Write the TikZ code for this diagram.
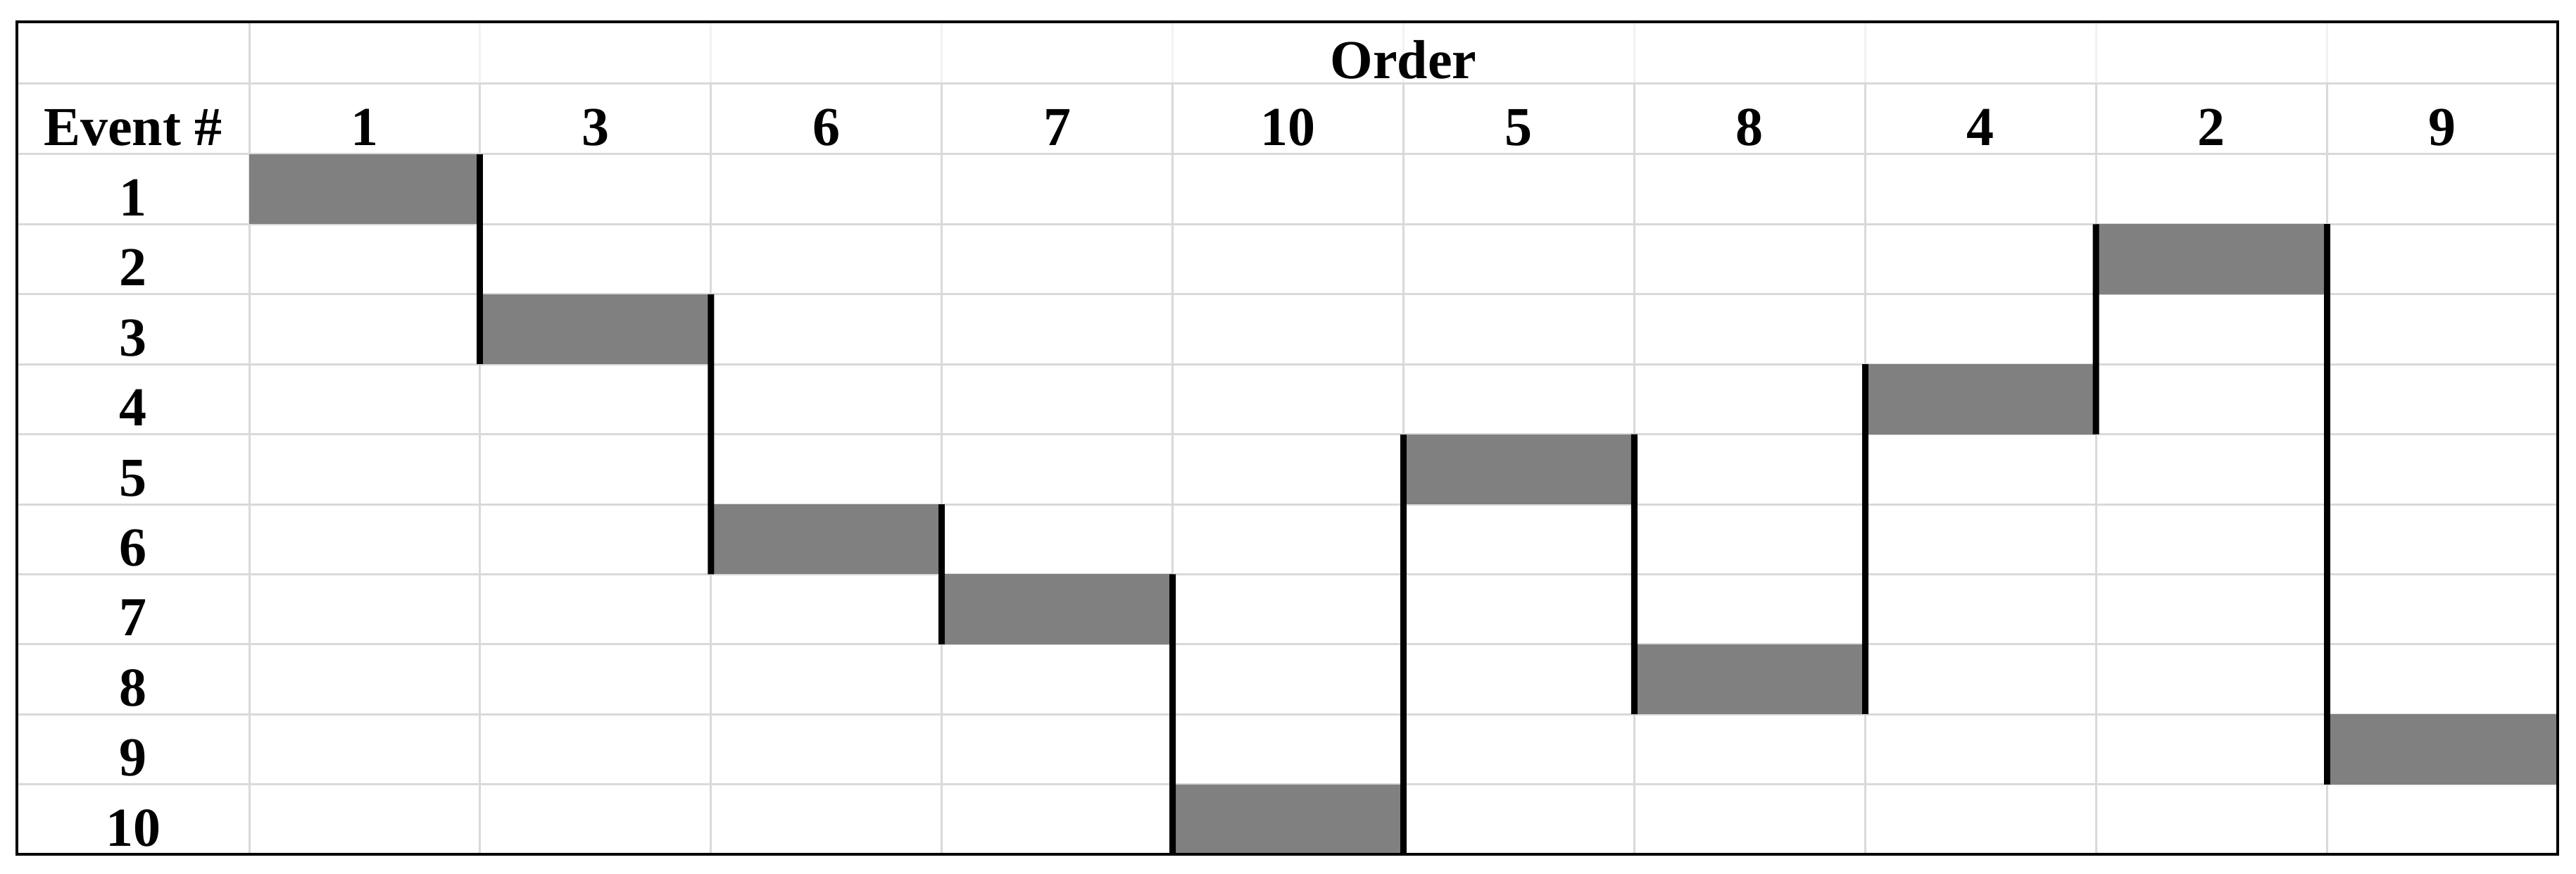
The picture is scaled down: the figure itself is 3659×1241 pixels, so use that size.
\documentclass[tikz,border=0pt]{standalone}
\usepackage{fontspec}
\setmainfont{Liberation Serif}
\definecolor{gridc}{HTML}{D9D9D9}
\definecolor{barc}{HTML}{808080}
\definecolor{faintc}{HTML}{F2F2F2}
\begin{document}
\begin{tikzpicture}[x=0.25pt,y=-0.25pt,
  gridline/.style={draw=gridc,line width=0.75pt},
  faintline/.style={draw=faintc,line width=0.75pt},
  barbox/.style={fill=barc,draw=none,inner sep=0pt,outer sep=0pt,minimum width=81.975pt,minimum height=24.85pt},
  stepline/.style={line width=2.25pt,draw=black},
  lbl/.style={font=\fontsize{19.5pt}{20pt}\selectfont\bfseries,inner sep=0pt,anchor=base},
  frame/.style={draw=black,line width=1pt}]
\useasboundingbox (0,0) rectangle (3659,1241);
\fill[white] (0,0) rectangle (3659,1241);
% faint verticals in the top row
\foreach \k in {1,...,9} \draw[faintline] ({354+327.9*\k},31) -- ({354+327.9*\k},119);
% grid
\draw[gridline] (24,119) -- (3633,119);
\foreach \r in {0,...,9} \draw[gridline] (24,{219+99.4*\r}) -- (3633,{219+99.4*\r});
\draw[gridline] (354,31) -- (354,1213);
\foreach \k in {1,...,9} \draw[gridline] ({354+327.9*\k},119) -- ({354+327.9*\k},1213);
% bars (named by event number)
\foreach \e [count=\j] in {1,3,6,7,10,5,8,4,2,9}
  \node[barbox] (b\e) at ({354+327.9*(\j-0.5)},{219+99.4*(\e-0.5)}) {};
% step lines
\draw[stepline] (b1.north east) -- (b3.south west);
\draw[stepline] (b3.north east) -- (b6.south west);
\draw[stepline] (b6.north east) -- (b7.south west);
\draw[stepline] (b7.north east) -- (b10.south west);
\draw[stepline] (b10.south east) -- (b5.north west);
\draw[stepline] (b5.north east) -- (b8.south west);
\draw[stepline] (b8.south east) -- (b4.north west);
\draw[stepline] (b4.south east) -- (b2.north west);
\draw[stepline] (b2.north east) -- (b9.south west);
% frame
\draw[frame] (24,31) rectangle (3633,1213);
% texts
\node[lbl] (order) at (1993.5,112) {Order};
\node[lbl] (evh) at (189,207) {Event \#};
\foreach \e [count=\j] in {1,3,6,7,10,5,8,4,2,9}
  \node[lbl] (h\j) at ({354+327.9*(\j-0.5)},207) {\e};
\foreach \r in {1,...,10}
  \node[lbl] (r\r) at (189,{219+99.4*\r-12}) {\r};
\end{tikzpicture}
\end{document}
